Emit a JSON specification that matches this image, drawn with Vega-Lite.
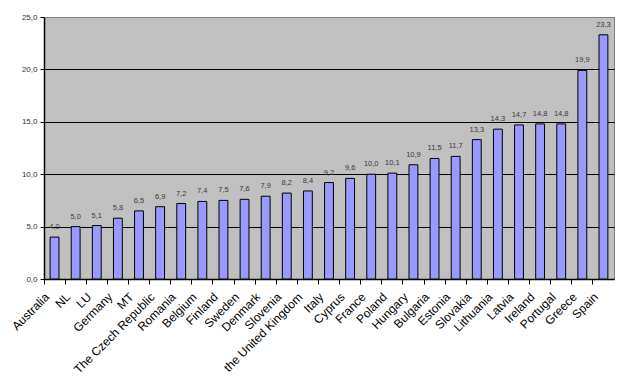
{
  "$schema": "https://vega.github.io/schema/vega-lite/v6.json",
  "width": 570,
  "height": 262,
  "autosize": {"type": "none"},
  "padding": {"left": 44, "top": 17, "right": 30, "bottom": 109},
  "background": "white",
  "config": {
    "font": "Liberation Sans",
    "axis": {"labelFont": "Liberation Sans"},
    "text": {"font": "Liberation Sans"},
    "locale": {"number": {"decimal": ",", "thousands": ".", "grouping": [3], "currency": ["", " €"]}},
    "view": {"fill": "#C0C0C0", "stroke": "#808080", "strokeWidth": 1}
  },
  "data": {"values": [
    {"country": "Australia", "value": 4.0},
    {"country": "NL", "value": 5.0},
    {"country": "LU", "value": 5.1},
    {"country": "Germany", "value": 5.8},
    {"country": "MT", "value": 6.5},
    {"country": "The Czech Republic", "value": 6.9},
    {"country": "Romania", "value": 7.2},
    {"country": "Belgium", "value": 7.4},
    {"country": "Finland", "value": 7.5},
    {"country": "Sweden", "value": 7.6},
    {"country": "Denmark", "value": 7.9},
    {"country": "Slovenia", "value": 8.2},
    {"country": "the United Kingdom", "value": 8.4},
    {"country": "Italy", "value": 9.2},
    {"country": "Cyprus", "value": 9.6},
    {"country": "France", "value": 10.0},
    {"country": "Poland", "value": 10.1},
    {"country": "Hungary", "value": 10.9},
    {"country": "Bulgaria", "value": 11.5},
    {"country": "Estonia", "value": 11.7},
    {"country": "Slovakia", "value": 13.3},
    {"country": "Lithuania", "value": 14.3},
    {"country": "Latvia", "value": 14.7},
    {"country": "Ireland", "value": 14.8},
    {"country": "Portugal", "value": 14.8},
    {"country": "Greece", "value": 19.9},
    {"country": "Spain", "value": 23.3}
  ]},
  "layer": [
    {
      "mark": {"type": "bar", "width": {"band": 0.42}, "fill": "#9999FF", "stroke": "black", "strokeWidth": 1},
      "encoding": {
        "x": {
          "field": "country", "type": "nominal", "sort": null,
          "scale": {"paddingInner": 0, "paddingOuter": 0},
          "axis": {"title": null, "orient": "bottom", "bandPosition": 0, "labels": false, "ticks": true, "tickSize": 5, "tickColor": "black", "tickWidth": 1, "domainColor": "black", "domainWidth": 1.5}
        },
        "y": {
          "field": "value", "type": "quantitative",
          "scale": {"domain": [0, 25], "nice": false},
          "axis": {
            "title": null, "values": [0, 5, 10, 15, 20, 25], "format": ".1f",
            "grid": true,
            "gridColor": {"condition": {"test": "datum.value == 25 || datum.value == 0", "value": "transparent"}, "value": "black"},
            "gridWidth": 1.2,
            "labelFontSize": 8, "labelColor": "#333333", "labelPadding": 3,
            "tickSize": 4, "tickColor": "black", "domainColor": "black", "domainWidth": 1.5
          }
        }
      }
    },
    {
      "mark": {"type": "text", "dy": -10, "fontSize": 7.5, "color": "#3a3a3a", "font": "Liberation Sans"},
      "encoding": {
        "x": {
          "field": "country", "type": "nominal", "sort": null,
          "axis": {"title": null, "orient": "bottom", "labelAngle": -45, "ticks": false, "domain": false, "labelFontSize": 12, "labelFont": "Liberation Sans", "labelColor": "black", "labelPadding": 12, "labelOffset": -11}
        },
        "y": {"field": "value", "type": "quantitative"},
        "text": {"field": "value", "type": "quantitative", "format": ".1f"}
      }
    }
  ],
  "resolve": {"axis": {"x": "independent"}}
}
